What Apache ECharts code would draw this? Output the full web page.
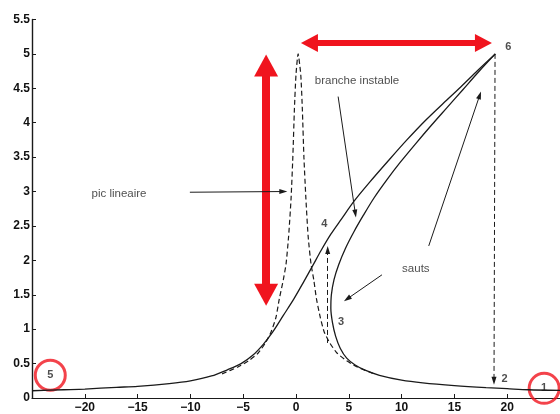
<!DOCTYPE html>
<html><head><meta charset="utf-8">
<script src="https://cdn.jsdelivr.net/npm/echarts@6/dist/echarts.min.js"></script>
<style>html,body{margin:0;padding:0;background:#fff}#c{width:560px;height:414px}</style>
</head><body><div id="c"></div>
<script>
// ---- data (x = frequency detuning, y = amplitude) ----
const upperBranch = [[-25,0.105],[-22,0.12],[-20,0.13],[-17,0.155],[-15,0.17],[-12,0.21],[-10,0.25],[-8,0.32],[-6.5,0.41],[-5.2,0.5],[-4.1,0.62],[-3.1,0.78],[-2.2,0.96],[-1.2,1.2],[-0.2,1.44],[0.7,1.68],[1.57,1.92],[2.4,2.15],[3.3,2.38],[4.3,2.6],[5.5,2.86],[7.0,3.14],[8.7,3.44],[10.5,3.75],[12.3,4.04],[14.0,4.29],[15.6,4.52],[17.2,4.76],[18.87,5.0]];
const lowerBranch = [[18.87,5.0],[17.3,4.74],[15.8,4.48],[14.3,4.22],[12.8,3.96],[11.3,3.69],[9.9,3.43],[8.6,3.17],[7.4,2.91],[6.4,2.66],[5.5,2.42],[4.7,2.18],[4.05,1.94],[3.6,1.72],[3.35,1.5],[3.3,1.3],[3.45,1.1],[3.75,0.9],[4.2,0.72],[4.8,0.58],[5.6,0.48],[6.6,0.4],[7.9,0.33],[10,0.26],[12,0.22],[15,0.18],[18,0.15],[20,0.135],[22,0.12],[25,0.11]];
const linearPeak = [[-7,0.35],[-5.5,0.45],[-4.5,0.54],[-3.6,0.65],[-2.9,0.8],[-2.36,0.96],[-1.9,1.17],[-1.58,1.44],[-1.2,1.72],[-0.94,1.95],[-0.7,2.35],[-0.47,2.89],[-0.3,3.5],[-0.15,4.2],[0,4.7],[0.2,5.0],[0.45,4.7],[0.6,4.2],[0.75,3.5],[0.94,2.89],[1.15,2.35],[1.42,1.95],[1.68,1.72],[1.94,1.44],[2.3,1.17],[2.67,0.96],[3.2,0.8],[3.9,0.65],[4.8,0.54],[5.8,0.45],[7.4,0.35]];
const xTickLabels = [-20,-15,-10,-5,0,5,10,15,20];
const yTickLabels = [0,0.5,1,1.5,2,2.5,3,3.5,4,4.5,5,5.5];
// annotations (data coordinates)
const wordLabels = [['pic lineaire',-16.76,2.96],['branche instable',5.78,4.61],['sauts',11.35,1.87]];
const numberLabels = [['6',20.1,5.1],['4',2.67,2.53],['3',4.27,1.11],['2',19.75,0.28],['1',23.5,0.14],['5',-23.27,0.33]];
const circledPoints = [[-23.27,0.33],[23.5,0.14]];
const pointerArrows = [[[-10.05,2.99],[-1.2,3.0]],[[3.99,4.38],[5.62,2.68]],[[8.14,1.79],[4.85,1.44]],[[12.57,2.21],[17.4,4.4]]];
const jumpArrows = [[[3.0,0.8],[3.0,2.15]],[[18.85,5.0],[18.75,0.25]]];
const redVertical = [[-2.83,4.83],[-2.83,1.5]];
const redHorizontal = [[1.27,5.16],[17.75,5.16]];

const chart = echarts.init(document.getElementById('c'), null, {renderer:'canvas'});
const fam = 'Liberation Sans, Arial, sans-serif';
const ink = '#1a1a1a';
const red = '#f0141e';
function segs(list){ return list.map(s => [{coord:s[0]},{coord:s[1]}]); }
chart.setOption({
  animation:false,
  grid:{left:32,right:-1,top:19.5,bottom:14.5},
  xAxis:{type:'value',min:-25,max:25,interval:5,
    axisLine:{onZero:false,lineStyle:{color:ink,width:1.2}},
    axisTick:{inside:true,length:4,lineStyle:{color:ink}},
    axisLabel:{showMinLabel:false,showMaxLabel:false,margin:4,fontSize:12,fontWeight:'bold',color:'#111',fontFamily:fam,
      formatter:v=> xTickLabels.includes(v) ? String(v).replace('-','\u2212') : ''},
    splitLine:{show:false}},
  yAxis:{type:'value',min:0,max:5.5,interval:0.5,
    axisLine:{show:true,onZero:false,lineStyle:{color:ink,width:1.4}},
    axisTick:{show:true,inside:true,length:4,lineStyle:{color:ink}},
    axisLabel:{margin:2,fontSize:12,fontWeight:'bold',color:'#111',fontFamily:fam,
      formatter:v=> yTickLabels.includes(v) ? String(v) : ''},
    splitLine:{show:false}},
  series:[
    {type:'line',data:upperBranch,showSymbol:false,smooth:0.3,lineStyle:{color:ink,width:1.3},silent:true},
    {type:'line',data:lowerBranch,showSymbol:false,smooth:0.3,lineStyle:{color:ink,width:1.3},silent:true},
    {type:'line',data:linearPeak,showSymbol:false,smooth:0.2,lineStyle:{color:ink,width:1.2,type:[5,3]},silent:true},
    {type:'scatter',data:[],silent:true,
      markLine:{silent:true,symbol:['triangle','triangle'],symbolSize:[24,22],label:{show:false},
        lineStyle:{color:red,width:8,type:'solid'},emphasis:{disabled:true},
        data:segs([redVertical])}},
    {type:'scatter',data:[],silent:true,
      markLine:{silent:true,symbol:['triangle','triangle'],symbolSize:[18,17],label:{show:false},
        lineStyle:{color:red,width:6,type:'solid'},emphasis:{disabled:true},
        data:segs([redHorizontal])}},
    {type:'scatter',data:[],silent:true,
      markLine:{silent:true,symbol:['none','triangle'],symbolSize:[5,8],label:{show:false},
        lineStyle:{color:ink,width:1,type:'solid'},emphasis:{disabled:true},
        data:segs(pointerArrows)}},
    {type:'scatter',data:[],silent:true,
      markLine:{silent:true,symbol:['none','triangle'],symbolSize:[5,8],label:{show:false},
        lineStyle:{color:ink,width:1,type:[5,3]},emphasis:{disabled:true},
        data:segs(jumpArrows)}},
    {type:'scatter',silent:true,symbol:'circle',symbolSize:30,
      itemStyle:{color:'rgba(0,0,0,0)',borderColor:red,borderWidth:3},
      data:circledPoints},
    {type:'scatter',silent:true,symbolSize:0,itemStyle:{color:'rgba(0,0,0,0)'},
      label:{show:true,position:'inside',formatter:p=>p.data[2],fontSize:11.5,color:'#222',fontFamily:fam},
      data:wordLabels.map(w=>[w[1],w[2],w[0]])},
    {type:'scatter',silent:true,symbolSize:0,itemStyle:{color:'rgba(0,0,0,0)'},
      label:{show:true,position:'inside',formatter:p=>p.data[2],fontSize:11,fontWeight:'bold',color:'#222',fontFamily:fam},
      data:numberLabels.map(w=>[w[1],w[2],w[0]])}
  ]
});
</script></body></html>
